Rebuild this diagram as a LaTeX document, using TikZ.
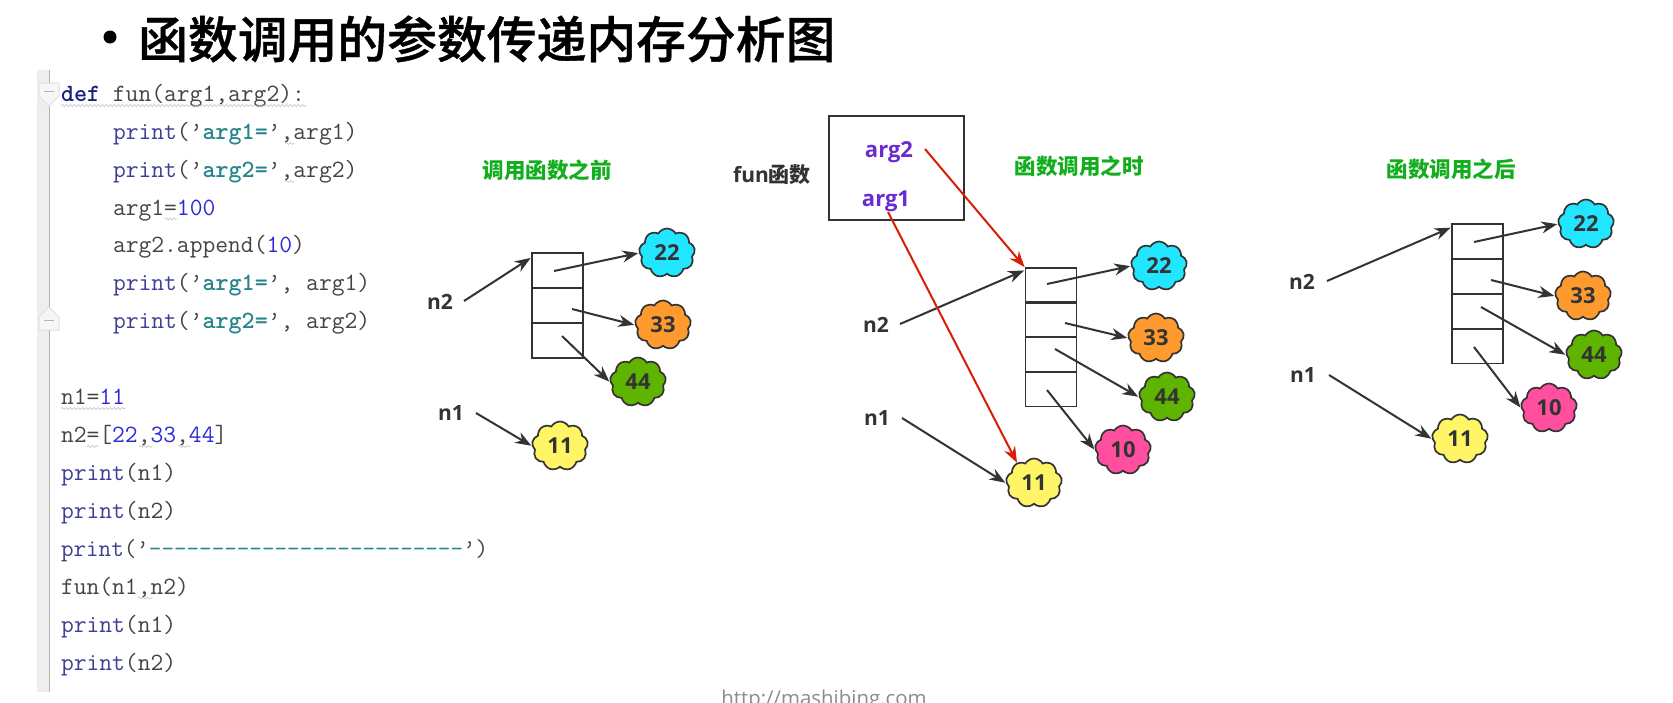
\documentclass[tikz,border=0pt]{standalone}
\usepackage{fontspec}
\setmainfont{Open Sans}
\newfontfamily\cjk{Noto Sans CJK SC}
\newfontfamily\cjkm[FakeBold=0.8]{Noto Sans CJK SC Medium}
\usetikzlibrary{arrows.meta,shapes.symbols,decorations.pathmorphing}
\definecolor{ink}{HTML}{333333}
\definecolor{codegray}{HTML}{444444}
\definecolor{kwnavy}{HTML}{1C1C80}
\definecolor{kwpurple}{HTML}{3E3E96}
\definecolor{strteal}{HTML}{25858A}
\definecolor{numblue}{HTML}{2A2AD8}
\definecolor{titlegreen}{HTML}{12AE1E}
\definecolor{argpurple}{HTML}{6A2BD0}
\definecolor{redline}{HTML}{D81E06}
\definecolor{cyanc}{HTML}{22E6FF}
\definecolor{orangec}{HTML}{FF9A2E}
\definecolor{greenc}{HTML}{5FB400}
\definecolor{yellowc}{HTML}{FFF566}
\definecolor{pinkc}{HTML}{FF4F9E}
\definecolor{gutter}{HTML}{EEEDF0}
\newcommand{\kw}[1]{\textcolor{kwnavy}{\bfseries #1}}
\newcommand{\pr}[1]{\textcolor{kwpurple}{#1}}
\newcommand{\st}[1]{\textcolor{strteal}{\bfseries #1}}
\newcommand{\nm}[1]{\textcolor{numblue}{#1}}
\tikzset{
  codeline/.style={anchor=base west,inner sep=0pt,outer sep=0pt,text=codegray,font=\ttfamily\fontsize{24.85}{28}\selectfont},
  squiggle/.style={draw=black!25,line width=0.6pt,decorate,decoration={snake,segment length=4pt,amplitude=1pt}},
  cloudbox/.style={cloud,cloud puffs=9,cloud puff arc=120,aspect=1.15,draw=ink,line width=1.7pt,minimum width=56pt,minimum height=49pt,inner sep=0pt,text=ink,font=\fontsize{22}{24}\selectfont\bfseries},
  cellbox/.style={draw=ink,line width=1.8pt,minimum width=51pt,minimum height=35pt,inner sep=0pt},
  varlabel/.style={inner sep=0pt,text=ink,font=\fontsize{21}{24}\selectfont\bfseries},
  arglabel/.style={inner sep=0pt,text=argpurple,font=\fontsize{22}{24}\selectfont\bfseries},
  paneltitle/.style={inner sep=0pt,text=titlegreen,font=\cjk\fontsize{21.5}{24}\selectfont\bfseries},
  ptr/.style={draw=ink,line width=2pt,-{Stealth[length=16pt,width=12pt]},shorten >=0.5pt},
  redptr/.style={draw=redline,line width=2pt,-{Stealth[length=16pt,width=12pt]}},
}
\begin{document}
\begin{tikzpicture}[x=1pt,y=-1pt]
\useasboundingbox (0,0) rectangle (1673,702);
\clip (0,0) rectangle (1673,702);
\fill[white] (0,0) rectangle (1673,702);
% title
\fill[black] (110,37) circle (6.5);
\node[anchor=west,inner sep=0pt,font=\cjkm\fontsize{49.8}{56}\selectfont] (title) at (138,39) {函数调用的参数传递内存分析图};
% editor gutter
\fill[gutter] (37,70) rectangle (49,692);
\draw[black!30,line width=0.8pt] (49,70) -- (49,692);
\draw[black!12,fill=gutter!50!white,line width=1pt] (39,83) -- (59,83) -- (59,96) -- (49,106) -- (39,96) -- cycle;
\draw[black!30,line width=0.8pt] (44,91) -- (54,91);
\draw[black!12,fill=gutter!50!white,line width=1pt] (39,330) -- (59,330) -- (59,317) -- (49,307) -- (39,317) -- cycle;
\draw[black!30,line width=0.8pt] (44,320) -- (54,320);
% code
\node[codeline] (l1) at (61,101) {\kw{def} fun(arg1,arg2):};
\node[codeline] (l2) at (113,139) {\pr{print}(’\st{arg1=}’,arg1)};
\node[codeline] (l3) at (113,177) {\pr{print}(’\st{arg2=}’,arg2)};
\node[codeline] (l4) at (113,215) {arg1=\nm{100}};
\node[codeline] (l5) at (113,252) {arg2.append(\nm{10})};
\node[codeline] (l6) at (113,290.5) {\pr{print}(’\st{arg1=}’, arg1)};
\node[codeline] (l7) at (113,328.5) {\pr{print}(’\st{arg2=}’, arg2)};
\node[codeline] (l8) at (61,404.5) {n1=\nm{11}};
\node[codeline] (l9) at (61,442.5) {n2=[\nm{22},\nm{33},\nm{44}]};
\node[codeline] (l10) at (61,480.5) {\pr{print}(n1)};
\node[codeline] (l11) at (61,518.5) {\pr{print}(n2)};
\node[codeline,font=\ttfamily\fontsize{24.4}{28}\selectfont] (l12) at (61,556) {\pr{print}(’\textcolor{strteal}{{-}{-}{-}{-}{-}{-}{-}{-}{-}{-}{-}{-}{-}{-}{-}{-}{-}{-}{-}{-}{-}{-}{-}{-}{-}}’)};
\node[codeline] (l13) at (61,594) {fun(n1,n2)};
\node[codeline] (l14) at (61,632) {\pr{print}(n1)};
\node[codeline] (l15) at (61,670) {\pr{print}(n2)};
% squiggles
\draw[squiggle] (61,105.5) -- (306,105.5);
\draw[squiggle] (285,143.5) -- (294,143.5);
\draw[squiggle] (285,181.5) -- (294,181.5);
\draw[squiggle] (165,219) -- (177,219);
\draw[squiggle] (61,408.5) -- (125,408.5);
\draw[squiggle] (87,446.5) -- (98,446.5);
\draw[squiggle] (139,446.5) -- (152,446.5);
\draw[squiggle] (178,446.5) -- (190,446.5);
\draw[squiggle] (138,598) -- (152,598);
% footer
\node[anchor=base,inner sep=0pt,text=black!45,font=\fontsize{20.4}{24}\selectfont] (foot) at (824,705) {http://mashibing.com};

% ---- panel 1
\node[paneltitle] (ta) at (547,170) {调用函数之前};
\node[cellbox] (a1) at (557.5,270.5) {};
\node[cellbox] (a2) at (557.5,305.5) {};
\node[cellbox] (a3) at (557.5,340.5) {};
\node[cloudbox,fill=cyanc] (a22) at (667,253) {22};
\node[cloudbox,fill=orangec] (a33) at (663,325) {33};
\node[cloudbox,fill=greenc] (a44) at (638,382) {44};
\node[cloudbox,fill=yellowc] (a11) at (560,446) {11};
\node[varlabel] (an2) at (440,302) {n2};
\node[varlabel] (an1) at (451,413) {n1};
\coordinate (as2) at (464,301);
\coordinate (as1) at (476,413);
\coordinate (aa) at (554,271);
\coordinate (ab) at (572,309);
\coordinate (ac) at (562,336);
\draw[ptr] (as2) -- (a1.154);
\draw[ptr] (as1) -- (a11.west);
\draw[ptr] (aa) -- (a22.west);
\draw[ptr] (ab) -- (a33.west);
\draw[ptr] (ac) -- (a44.west);

% ---- panel 2
\node[paneltitle] (tb) at (1079,166) {函数调用之时};
\node[draw=ink,line width=1.8pt,minimum width=135pt,minimum height=104pt,inner sep=0pt] (fbox) at (896.5,168) {};
\node[arglabel] (arg2) at (889,152) {arg2};
\node[arglabel] (arg1) at (886,201) {arg1};
\node[inner sep=0pt,text=ink,font=\fontsize{21}{24}\selectfont\bfseries] (fl) at (772,175) {fun{\cjk\bfseries 函数}};
\node[cellbox] (b1) at (1051,285.5) {};
\node[cellbox] (b2) at (1051,319.5) {};
\node[cellbox] (b3) at (1051,354.5) {};
\node[cellbox] (b4) at (1051,389) {};
\node[cloudbox,fill=cyanc] (b22) at (1159,266) {22};
\node[cloudbox,fill=orangec] (b33) at (1156,338) {33};
\node[cloudbox,fill=greenc] (b44) at (1167,397) {44};
\node[cloudbox,fill=pinkc] (b10) at (1123,450) {10};
\node[cloudbox,fill=yellowc] (b11) at (1034,483) {11};
\node[varlabel] (bn2) at (876,325) {n2};
\node[varlabel] (bn1) at (877,418) {n1};
\coordinate (bs2) at (900,324);
\coordinate (bs1) at (902,418);
\coordinate (ba) at (1047,284);
\coordinate (bb) at (1065,323);
\coordinate (bc) at (1055,349);
\coordinate (bd) at (1047,390);
\coordinate (ra) at (925,149);
\coordinate (rb) at (888,212);
\draw[ptr] (bs2) -- (b1.150);
\draw[ptr] (bs1) -- (b11.west);
\draw[ptr] (ba) -- (b22.west);
\draw[ptr] (bb) -- (b33.west);
\draw[ptr] (bc) -- (b44.west);
\draw[ptr] (bd) -- (b10.west);
\draw[redptr] (ra) -- (b1.north west);
\draw[redptr] (rb) -- (b11.130);

% ---- panel 3
\node[paneltitle] (tc) at (1451,169) {函数调用之后};
\node[cellbox] (c1) at (1477.5,241.5) {};
\node[cellbox] (c2) at (1477.5,276.5) {};
\node[cellbox] (c3) at (1477.5,311.5) {};
\node[cellbox] (c4) at (1477.5,346) {};
\node[cloudbox,fill=cyanc] (c22) at (1586,224) {22};
\node[cloudbox,fill=orangec] (c33) at (1583,296) {33};
\node[cloudbox,fill=greenc] (c44) at (1594,355) {44};
\node[cloudbox,fill=pinkc] (c10) at (1549,408) {10};
\node[cloudbox,fill=yellowc] (c11) at (1460,439) {11};
\node[varlabel] (cn2) at (1302,282) {n2};
\node[varlabel] (cn1) at (1303,375) {n1};
\coordinate (cs2) at (1327,281);
\coordinate (cs1) at (1329,375);
\coordinate (ca) at (1474,242);
\coordinate (cb) at (1491,280);
\coordinate (cc) at (1481,307);
\coordinate (cd) at (1474,347);
\draw[ptr] (cs2) -- (c1.152);
\draw[ptr] (cs1) -- (c11.west);
\draw[ptr] (ca) -- (c22.west);
\draw[ptr] (cb) -- (c33.west);
\draw[ptr] (cc) -- (c44.west);
\draw[ptr] (cd) -- (c10.west);
\end{tikzpicture}
\end{document}
